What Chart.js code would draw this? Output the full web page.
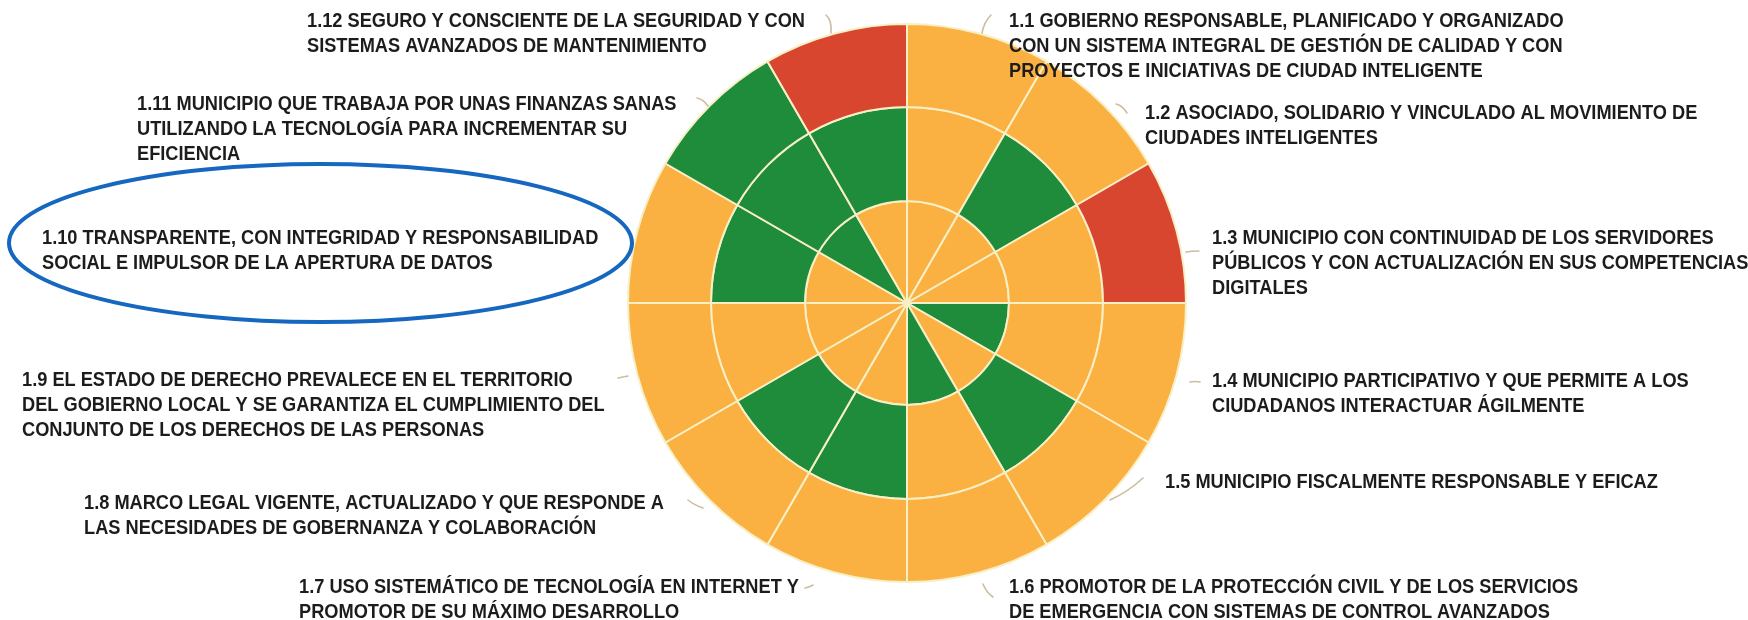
<!DOCTYPE html>
<html><head><meta charset="utf-8">
<script src="https://cdn.jsdelivr.net/npm/chart.js@4.4.0/dist/chart.umd.min.js"></script>
<style>html,body{margin:0;padding:0;background:#fff;overflow:hidden}canvas{display:block}</style>
</head><body>
<canvas id="c" width="1748" height="620"></canvas>
<script>
// ---- Data ----
const categories = ['1.1','1.2','1.3','1.4','1.5','1.6','1.7','1.8','1.9','1.10','1.11','1.12'];
const sliceValues = [1,1,1,1,1,1,1,1,1,1,1,1];
// status per ring: A = en proceso (naranja), V = cumplido (verde), R = pendiente (rojo)
const innerRing  = ['A','A','A','V','A','V','A','A','A','A','V','A'];
const middleRing = ['A','V','A','A','V','A','V','V','A','V','V','V'];
const outerRing  = ['A','A','R','A','A','A','A','A','A','A','V','R'];
const labelTexts = [
  ['1.1 GOBIERNO RESPONSABLE, PLANIFICADO Y ORGANIZADO','CON UN SISTEMA INTEGRAL DE GESTIÓN DE CALIDAD Y CON','PROYECTOS E INICIATIVAS DE CIUDAD INTELIGENTE'],
  ['1.2 ASOCIADO, SOLIDARIO Y VINCULADO AL MOVIMIENTO DE','CIUDADES INTELIGENTES'],
  ['1.3 MUNICIPIO CON CONTINUIDAD DE LOS SERVIDORES','PÚBLICOS Y CON ACTUALIZACIÓN EN SUS COMPETENCIAS','DIGITALES'],
  ['1.4 MUNICIPIO PARTICIPATIVO Y QUE PERMITE A LOS','CIUDADANOS INTERACTUAR ÁGILMENTE'],
  ['1.5 MUNICIPIO FISCALMENTE RESPONSABLE Y EFICAZ'],
  ['1.6 PROMOTOR DE LA PROTECCIÓN CIVIL Y DE LOS SERVICIOS','DE EMERGENCIA CON SISTEMAS DE CONTROL AVANZADOS'],
  ['1.7 USO SISTEMÁTICO DE TECNOLOGÍA EN INTERNET Y','PROMOTOR DE SU MÁXIMO DESARROLLO'],
  ['1.8 MARCO LEGAL VIGENTE, ACTUALIZADO Y QUE RESPONDE A','LAS NECESIDADES DE GOBERNANZA Y COLABORACIÓN'],
  ['1.9 EL ESTADO DE DERECHO PREVALECE EN EL TERRITORIO','DEL GOBIERNO LOCAL Y SE GARANTIZA EL CUMPLIMIENTO DEL','CONJUNTO DE LOS DERECHOS DE LAS PERSONAS'],
  ['1.10 TRANSPARENTE, CON INTEGRIDAD Y RESPONSABILIDAD','SOCIAL E IMPULSOR DE LA APERTURA DE DATOS'],
  ['1.11 MUNICIPIO QUE TRABAJA POR UNAS FINANZAS SANAS','UTILIZANDO LA TECNOLOGÍA PARA INCREMENTAR SU','EFICIENCIA'],
  ['1.12 SEGURO Y CONSCIENTE DE LA SEGURIDAD Y CON','SISTEMAS AVANZADOS DE MANTENIMIENTO']
];

// ---- Styling / layout ----
const palette = {A:'#FBB042', V:'#1F8C3B', R:'#D8462F'};
const labelLayout = [
  [1009,21],[1145,113],[1212,238],[1212,381],[1165,482],[1009,587],
  [299,587],[84,503],[22,380],[42,238],[137,104],[307,21]
];
const leaders = [
  [991,15,984,22,982,33],[1116,104,1122,105,1127,113],[1186,252,1192,251,1199,251],
  [1190,382,1195,381,1200,382],[1110,500,1128,492,1143,478],[983,584,986,592,993,597],
  [805,588,810,587,813,585],[688,500,694,505,703,508],[618,378,623,377,628,376],
  null,[697,98,703,99,708,106],[826,15,832,20,831,33]
];

const labelsPlugin = {
  id:'labelsPlugin',
  afterDraw(chart){
    const ctx = chart.ctx;
    ctx.save();
    // leader lines
    ctx.strokeStyle = '#cdbd9f'; ctx.lineWidth = 1.6; ctx.lineCap='round';
    leaders.forEach(l=>{ if(!l) return; ctx.beginPath(); ctx.moveTo(l[0],l[1]); ctx.quadraticCurveTo(l[2],l[3],l[4],l[5]); ctx.stroke(); });
    // texts
    ctx.font = "bold 20px 'Liberation Sans Narrow', 'Liberation Sans', Arial, sans-serif";
    const ref = ctx.measureText(labelTexts[11][0]).width;
    const sx = 498 / ref;
    ctx.fillStyle = '#1c1c1c';
    ctx.textBaseline = 'middle';
    ctx.textAlign = 'left';
    labelTexts.forEach((lines,i)=>{
      const [x,y] = labelLayout[i];
      lines.forEach((t,j)=>{
        ctx.save();
        ctx.translate(x, y + j*25);
        ctx.scale(sx,1);
        ctx.fillText(t,0,0);
        ctx.restore();
      });
    });
    // highlight ellipse
    ctx.beginPath();
    ctx.ellipse(320.5,243,311.5,79,0,0,Math.PI*2);
    ctx.strokeStyle = '#1567BF'; ctx.lineWidth = 4; ctx.stroke();
    ctx.restore();
  }
};

const ringDataset = (status, weight) => ({
  data: sliceValues,
  backgroundColor: status.map(s=>palette[s]),
  borderColor: '#F7F0C6',
  borderWidth: 2,
  weight: weight
});

new Chart(document.getElementById('c'), {
  type:'doughnut',
  data:{
    labels: categories,
    datasets:[
      ringDataset(outerRing, 83),
      ringDataset(middleRing, 94),
      ringDataset(innerRing, 102)
    ]
  },
  options:{
    responsive:false,
    animation:false,
    cutout:0,
    layout:{padding:{left:627,right:561,top:23,bottom:37}},
    plugins:{legend:{display:false},tooltip:{enabled:false}}
  },
  plugins:[labelsPlugin]
});
</script>
</body></html>
